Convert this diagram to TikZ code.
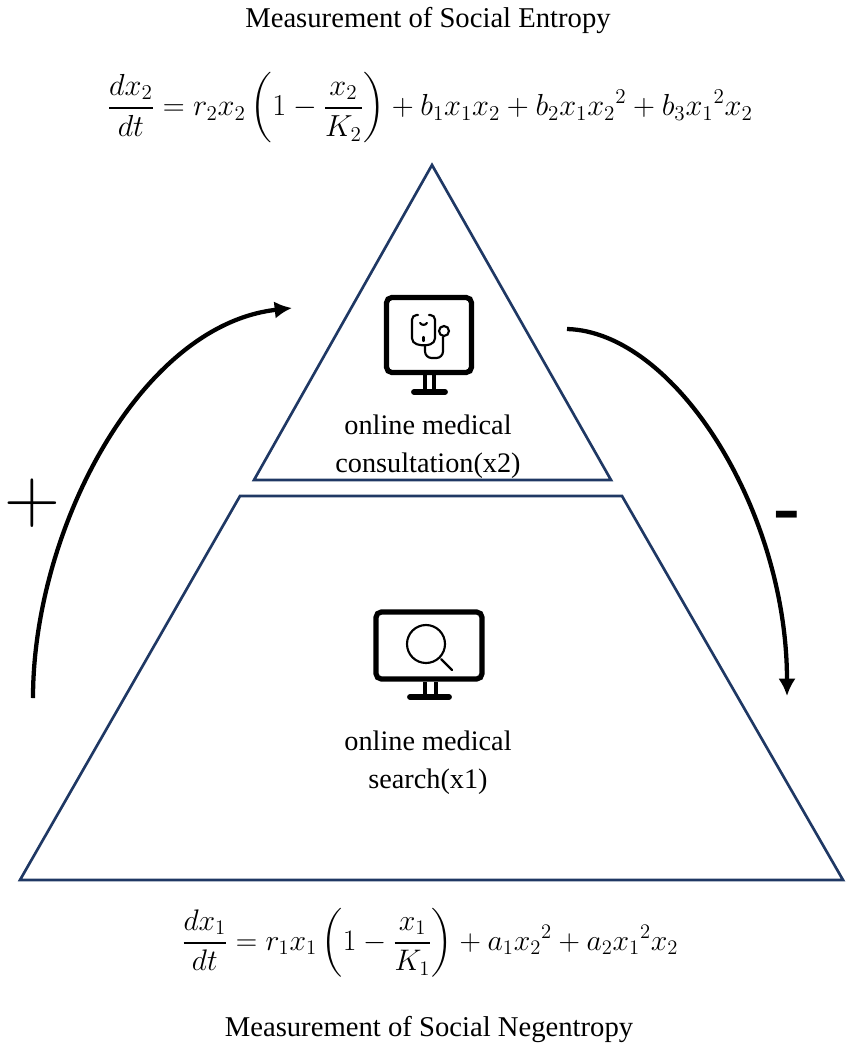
\documentclass[tikz,border=0pt]{standalone}
\usepackage{amsmath,amssymb,amsfonts}
\usepackage{xcolor}
\usepackage{fontspec}
\setmainfont{Liberation Serif}
\usetikzlibrary{arrows.meta}
\definecolor{pyrblue}{HTML}{1F3864}

\begin{document}
\begin{tikzpicture}[
  x=0.75pt, y=-0.75pt,
  lbl/.style={align=center, inner sep=0pt, font=\fontsize{21.2}{28.5}\selectfont},
  ttl/.style={inner sep=0pt, font=\fontsize{21.5}{28.5}\selectfont},
  eqn/.style={inner sep=0pt, transform shape, font=\fontsize{20}{24}\selectfont},
  tri/.style={draw=pyrblue, line width=2pt, line join=miter},
  fl/.style={-{Latex[length=13pt,width=13pt]}, line width=3.2pt},
  scr/.style={draw=black, line width=3.9pt, rounded corners=4pt},
  leg/.style={line width=3pt},
  foot/.style={line width=4.4pt, line cap=round},
  ico/.style={draw=black, line width=1.6pt, line cap=round}]
\useasboundingbox (0,0) rectangle (851,1048);

\node[ttl] (topt) at (428,21) {Measurement of Social Entropy};
\node[eqn, scale=1.1] (topq) at (430,108) {$\displaystyle \frac{dx_2}{dt}=r_2x_2\left(1-\frac{x_2}{K_2}\right)+b_1x_1x_2+b_2x_1{x_2}^2+b_3{x_1}^2x_2$};
\node[lbl] (cons) at (428,447) {online medical\\consultation(x2)};
\node[lbl] (srch) at (428,763) {online medical\\search(x1)};
\node[eqn, scale=1.075] (botq) at (430,943) {$\displaystyle \frac{dx_1}{dt}=r_1x_1\left(1-\frac{x_1}{K_1}\right)+a_1{x_2}^2+a_2{x_1}^2x_2$};
\node[ttl] (bott) at (429,1029) {Measurement of Social Negentropy};
\node[eqn, scale=2.8] (plus) at (32,503.5) {$+$};
\node[inner sep=0pt, anchor=base, font=\fontsize{60}{60}\selectfont\bfseries] (minus) at (787,533) {-};

% pyramid
\draw[tri] (432,165) -- (611,480) -- (254,480) -- cycle;
\draw[tri] (240,496) -- (622,496) -- (843,880) -- (20,880) -- cycle;

% flows
\coordinate (la) at (33,698);
\coordinate (lb) at (292,308);
\coordinate (ra) at (567,329);
\coordinate (rb) at (787,696);
\draw[fl] (la) .. controls (33,530) and (140,325) .. (lb);
\draw[fl] (ra) .. controls (675,332) and (787,510) .. (rb);

% upper monitor
\draw[scr] (386.5,297.5) rectangle (471.5,372.5);
\draw[leg] (424.5,375) -- (424.5,391) (433.5,375) -- (433.5,391);
\draw[foot] (414,392) -- (445,392);
\draw[ico, rounded corners=3.5pt] (418,315) -- (412,315) -- (412,343) -- (424,346) -- (435,343) -- (435,315) -- (429,315);
\draw[ico] (420,323) .. controls (422,325.5) and (425,325.5) .. (427,323);
\draw[ico] (423.5,337) -- (423.5,341);
\draw[ico, rounded corners=5pt] (425,346) -- (425,358) -- (443,358) -- (443,337);
\draw[ico] (444,331) circle (5);

% lower monitor
\draw[scr] (376,612) rectangle (482,679);
\draw[leg] (424.5,682) -- (424.5,697) (435.5,682) -- (435.5,697);
\draw[foot] (410,697) -- (449,697);
\draw[ico] (426,644) circle (19);
\draw[ico] (441,659) -- (452,670);
\end{tikzpicture}
\end{document}
